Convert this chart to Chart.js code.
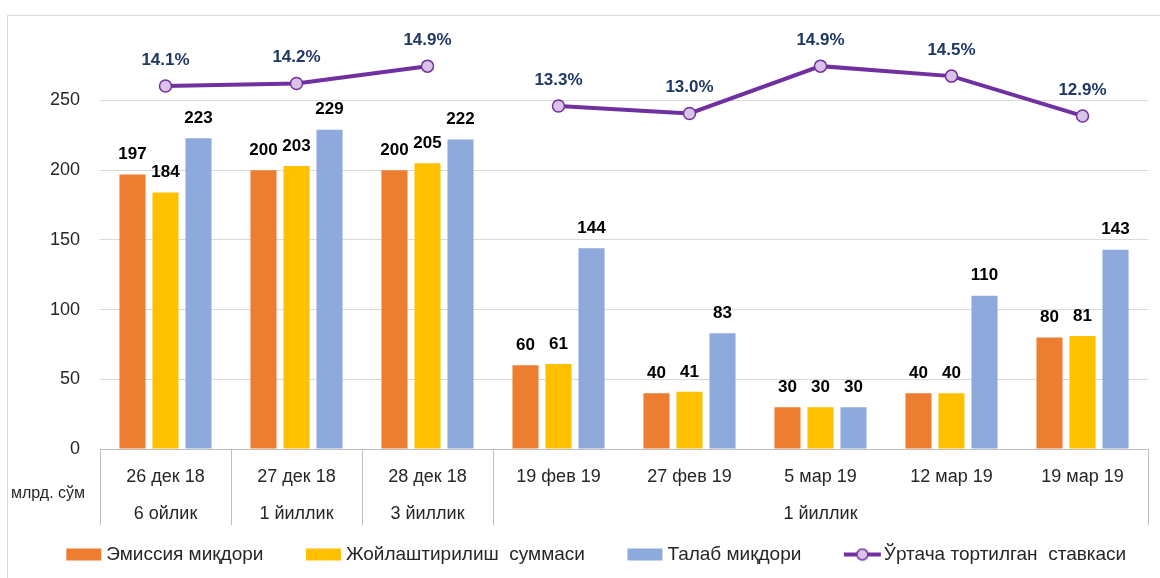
<!DOCTYPE html>
<html>
<head>
<meta charset="utf-8">
<script src="https://cdn.jsdelivr.net/npm/chart.js@4.4.1/dist/chart.umd.min.js"></script>
<style>
  html, body { margin: 0; padding: 0; background: #fff; }
  #wrap { width: 1160px; height: 578px; }
</style>
</head>
<body>
<div id="wrap"><canvas id="chart"></canvas></div>
<script>
const dates = ['26 дек 18', '27 дек 18', '28 дек 18', '19 фев 19', '27 фев 19', '5 мар 19', '12 мар 19', '19 мар 19'];
// second label row, the "1 йиллик" group is centred under 5 мар 19
const terms = ['6 ойлик', '1 йиллик', '3 йиллик', '', '', '1 йиллик', '', ''];
const emission = [197, 200, 200, 60, 40, 30, 40, 80];
const placed = [184, 203, 205, 61, 41, 30, 40, 81];
const demand = [223, 229, 222, 144, 83, 30, 110, 143];
const rate = [14.1, 14.2, 14.9, 13.3, 13.0, 14.9, 14.5, 12.9];
const yTicks = [0, 50, 100, 150, 200, 250];

const font = 'Liberation Sans, Arial, sans-serif';
const purple = '#7030A0';
const lavender = '#D9C3E9';

// legend marks: image is wider than the legend box so the mark sits close to its text
function mark(color, isLine) {
    const c = document.createElement('canvas');
    c.width = 60;
    c.height = 14;
    const g = c.getContext('2d');
    if (isLine) {
        g.strokeStyle = color;
        g.lineWidth = 4;
        g.beginPath(); g.moveTo(17, 7); g.lineTo(54, 7); g.stroke();
        g.fillStyle = lavender;
        g.lineWidth = 1.5;
        g.beginPath(); g.arc(35.5, 7, 5.5, 0, Math.PI * 2); g.fill(); g.stroke();
    } else {
        g.fillStyle = color;
        g.fillRect(17, 1, 35, 12);
    }
    return c;
}

const marks = [mark('#ED7D31'), mark('#FFC000'), mark('#8EA9DB'), mark(purple, true)];

const frame = {
    id: 'frame',
    afterLayout(chart) {
        const lg = chart.legend;
        lg.top = 507;
        lg.bottom = 578;
        lg.left += 20;
        lg.right += 20;
    },
    beforeDraw(chart) {
        const ctx = chart.ctx;
        ctx.save();
        ctx.fillStyle = '#fff';
        ctx.fillRect(0, 0, chart.width, chart.height);
        ctx.strokeStyle = '#d9d9d9';
        ctx.lineWidth = 1;
        ctx.strokeRect(7.5, 15.5, 1400, 800);
        ctx.restore();
    },
    afterDraw(chart) {
        const ctx = chart.ctx;
        ctx.save();
        ctx.font = '16px ' + font;
        ctx.fillStyle = '#262626';
        ctx.textAlign = 'center';
        ctx.textBaseline = 'middle';
        ctx.fillText('млрд. сўм', 48, 494);
        ctx.restore();
    }
};

const valueLabels = {
    id: 'valueLabels',
    afterDatasetsDraw(chart) {
        const ctx = chart.ctx;
        ctx.save();
        ctx.textAlign = 'center';
        ctx.textBaseline = 'middle';
        chart.data.datasets.forEach((ds, i) => {
            const meta = chart.getDatasetMeta(i);
            meta.data.forEach((el, j) => {
                if (ds.type === 'line') {
                    ctx.font = 'bold 17px ' + font;
                    ctx.fillStyle = '#1F3864';
                    ctx.fillText(ds.data[j].toFixed(1) + '%', el.x, el.y - 26);
                } else {
                    ctx.font = 'bold 17px ' + font;
                    ctx.fillStyle = '#000';
                    ctx.fillText(ds.data[j], el.x, el.y - 20);
                }
            });
        });
        ctx.restore();
    }
};

const chart = new Chart(document.getElementById('chart'),
    {
        type: 'bar',
        data:
        {
            labels: dates.map((d, i) => [d, terms[i]]),
            datasets:
            [
                {
                    label: 'Ўртача тортилган  ставкаси',
                    type: 'line',
                    data: rate,
                    yAxisID: 'y2',
                    order: 0,
                    borderColor: purple,
                    borderWidth: 4,
                    pointRadius: 6,
                    pointBorderWidth: 1.5,
                    pointBackgroundColor: lavender,
                    pointBorderColor: purple,
                    segment:
                    {
                        borderColor: ctx => ctx.p0DataIndex === 2 ? 'rgba(0,0,0,0)' : undefined
                    }
                },
                {
                    label: 'Эмиссия миқдори',
                    data: emission,
                    backgroundColor: '#ED7D31',
                    order: 1
                },
                {
                    label: 'Жойлаштирилиш  суммаси',
                    data: placed,
                    backgroundColor: '#FFC000',
                    order: 1
                },
                {
                    label: 'Талаб миқдори',
                    data: demand,
                    backgroundColor: '#8EA9DB',
                    order: 1
                }
            ]
        },
        options:
        {
            responsive: true,
            maintainAspectRatio: false,
            animation: false,
            categoryPercentage: 0.756,
            barPercentage: 0.79,
            layout: { padding: { top: 29, right: 12, left: 0, bottom: 0 } },
            scales:
            {
                x:
                {
                    afterFit: scale => { scale.height = 88; },
                    border: { color: '#bfbfbf' },
                    grid:
                    {
                        offset: true,
                        drawOnChartArea: false,
                        tickLength: 76,
                        color: ctx => (ctx.index >= 4 && ctx.index <= 7) ? 'rgba(0,0,0,0)' : '#bfbfbf'
                    },
                    ticks:
                    {
                        padding: -66.5,
                        color: '#262626',
                        maxRotation: 0,
                        autoSkip: false,
                        font: { family: font, size: 18, lineHeight: 37 / 18 }
                    }
                },
                y:
                {
                    min: 0,
                    max: 300,
                    afterFit: scale => { scale.width = 100; },
                    afterBuildTicks: scale => { scale.ticks = yTicks.concat([300]).map(v => ({ value: v })); },
                    border: { display: false },
                    grid:
                    {
                        drawTicks: false,
                        color: ctx => ctx.tick && ctx.tick.value === 300 ? 'rgba(0,0,0,0)' : '#d9d9d9'
                    },
                    ticks:
                    {
                        padding: 20,
                        color: '#262626',
                        font: { family: font, size: 18 },
                        callback: v => yTicks.includes(v) ? v : ''
                    }
                },
                y2:
                {
                    display: false,
                    min: -0.48,
                    max: 16.32
                }
            },
            plugins:
            {
                tooltip: { enabled: false },
                legend:
                {
                    position: 'bottom',
                    maxHeight: 41,
                    labels:
                    {
                        padding: 38,
                        usePointStyle: true,
                        pointStyleWidth: 35,
                        color: '#262626',
                        font: { family: font, size: 19 },
                        sort: (a, b) => (a.datasetIndex + 3) % 4 - (b.datasetIndex + 3) % 4,
                        generateLabels: c => Chart.defaults.plugins.legend.labels.generateLabels(c)
                            .map(l => Object.assign(l, { pointStyle: marks[(l.datasetIndex + 3) % 4] }))
                    }
                }
            }
        },
        plugins: [frame, valueLabels]
    })
</script>
</body>
</html>
